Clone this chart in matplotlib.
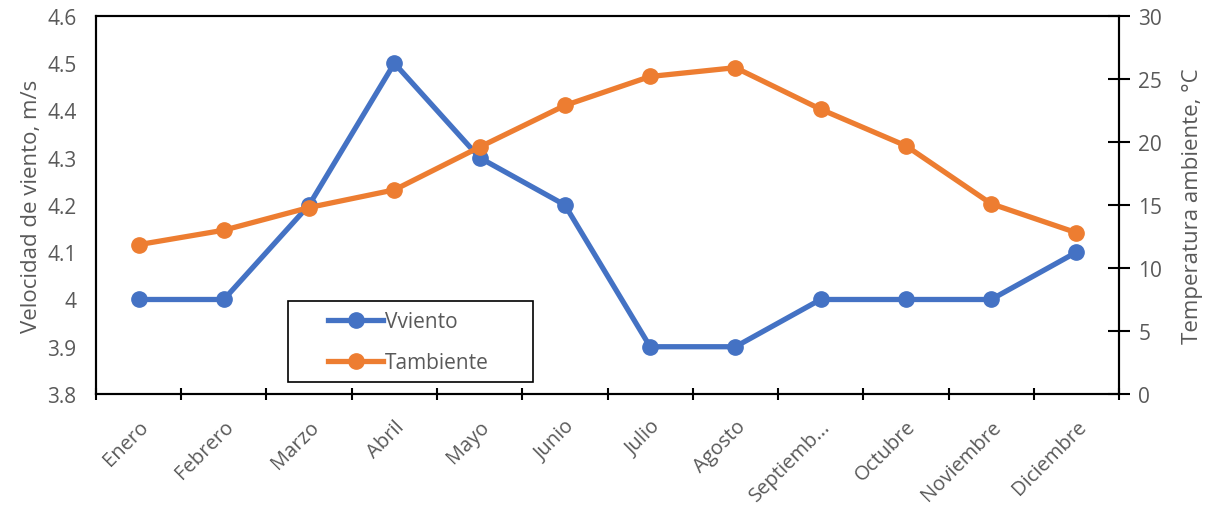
import numpy as np
import matplotlib

matplotlib.use('Agg')
import matplotlib.pyplot as plt
from matplotlib.patches import Rectangle

plt.rcParams['font.family'] = ['Open Sans', 'DejaVu Sans']

meses = ['Enero', 'Febrero', 'Marzo', 'Abril', 'Mayo', 'Junio', 'Julio', 'Agosto',
         'Septiemb...', 'Octubre', 'Noviembre', 'Diciembre']
v_viento = [4.0, 4.0, 4.2, 4.5, 4.3, 4.2, 3.9, 3.9, 4.0, 4.0, 4.0, 4.1]  # m/s
t_ambiente = [11.85, 13.0, 14.8, 16.2, 19.6, 22.9, 25.2, 25.9, 22.6, 19.7, 15.1, 12.8]  # °C

azul = '#4472C4'
naranja = '#ED7D31'
gris = '#595959'

fig = plt.figure(figsize=(12.12, 5.06), dpi=100)
ax1 = fig.add_axes([0.0792, 0.2194, 0.8441, 0.747])
ax2 = ax1.twinx()

x = np.arange(len(meses))
l1, = ax1.plot(x, v_viento, color=azul, lw=3.8, marker='o', ms=11, label='Vviento', zorder=3)
l2, = ax2.plot(x, t_ambiente, color=naranja, lw=3.8, marker='o', ms=11, label='Tambiente', zorder=3)

ax1.set_xlim(-0.5, len(meses) - 0.5)
ax1.set_ylim(3.8, 4.6)
ax2.set_ylim(0, 30)
ax1.set_yticks(np.arange(3.8, 4.61, 0.1))
ax1.set_yticklabels(['3.8', '3.9', '4', '4.1', '4.2', '4.3', '4.4', '4.5', '4.6'])
ax2.set_yticks(np.arange(0, 31, 5))

# category boundaries carry the ticks, labels sit at the centres
ax1.set_xticks(np.arange(-0.5, len(meses), 1.0))
ax1.set_xticklabels([])
ax1.set_xticks(x, minor=True)
ax1.set_xticklabels(meses, minor=True, rotation=45, ha='right', rotation_mode='anchor')
ax1.tick_params(axis='x', which='major', length=8, width=1.5, direction='inout', color='black')
ax1.tick_params(axis='x', which='minor', length=0, pad=16, labelsize=14.5, labelcolor=gris)
ax1.tick_params(axis='y', length=0, labelsize=15, labelcolor=gris, pad=14)
ax2.tick_params(axis='y', length=16, width=1.5, direction='inout', labelsize=15,
                labelcolor=gris, color='black', pad=6)

for ax in (ax1, ax2):
    for s in ax.spines.values():
        s.set_linewidth(1.5)
        s.set_color('black')

ax1.set_ylabel('Velocidad de viento, m/s', fontsize=16, color=gris, labelpad=4)
ax2.set_ylabel('Temperatura ambiente, °C', fontsize=16, color=gris, labelpad=14)

# legend box drawn as its own rectangle, entries placed inside it
caja = Rectangle((0.1877, 0.0317), 0.2395, 0.214, transform=ax2.transAxes,
                 facecolor='white', edgecolor='black', lw=1.2, zorder=4)
ax2.add_patch(caja)
leg = ax2.legend(handles=[l1, l2], loc='center left', bbox_to_anchor=(0.2268, 0.1376),
                 fontsize=15, frameon=False, handlelength=2.65, borderpad=0,
                 labelspacing=0.95, handletextpad=0.1, borderaxespad=0)
for t in leg.get_texts():
    t.set_color(gris)
leg.set_zorder(5)

fig.savefig('out.png', dpi=100)
